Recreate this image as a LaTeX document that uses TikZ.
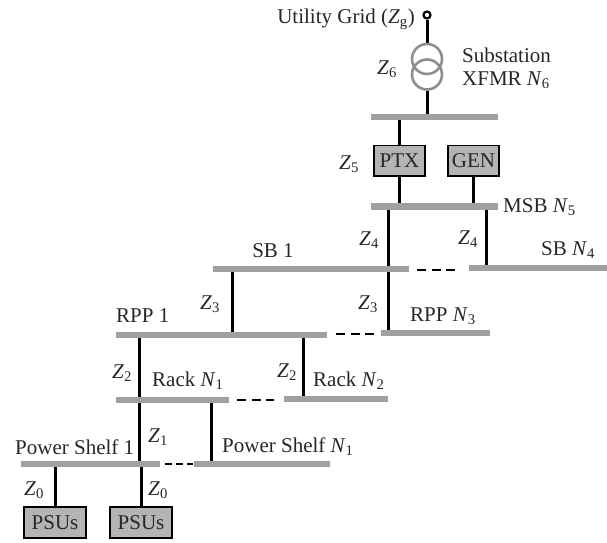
\documentclass[tikz,border=0pt]{standalone}
\usepackage{fontspec}
\usetikzlibrary{backgrounds}
\setmainfont{Liberation Serif}
\definecolor{busgray}{HTML}{A0A0A2}
\definecolor{boxgray}{HTML}{B4B4B6}
\definecolor{xfgray}{HTML}{8E8E90}
\newcommand{\busat}[4]{\node[busbar,minimum width={(#3-#2)*1pt},anchor=west] (#1) at (#2,#4) {};}
\newcommand{\boxat}[6]{\node[gearbox,minimum width={(#3-#2-1.8)*1pt},minimum height={(#5-#4-1.8)*1pt}] (#1) at ({(#2+#3)/2},{(#4+#5)/2}) {#6};}
\newcommand{\Zn}[1]{\textit{Z}\textsubscript{#1}}
\newcommand{\Nn}[1]{\textit{N}\textsubscript{#1}}
\begin{document}
\begin{tikzpicture}[x=1pt,y=-1pt,
  busbar/.style={draw=none,fill=busgray,minimum height=6.5pt,inner sep=0pt},
  wire/.style={line width=3pt,black},
  dashwire/.style={line width=2.4pt,black,dash pattern=on 9pt off 5.5pt},
  gearbox/.style={draw=black,line width=1.8pt,fill=boxgray,inner sep=0pt,font=\fontsize{21}{21}\selectfont,text=black!85},
  lbl/.style={inner sep=0pt,font=\fontsize{21}{23}\selectfont,text=black!85,align=left}]
\useasboundingbox (0,0) rectangle (607,542);
% buses
\busat{top}{371}{498}{117}
\busat{msb}{371}{498}{206.5}
\busat{sba}{213}{409}{269}
\busat{sbn}{469}{607}{268}
\busat{rppn}{381}{490}{333}
\busat{rppa}{116}{327}{335}
\busat{racka}{116}{229}{400}
\busat{rackn}{284}{388}{399}
\busat{shelfa}{21}{160}{464}
\busat{shelfn}{194}{330}{464}
% boxes
\boxat{ptx}{373}{426}{144.5}{177}{PTX}
\boxat{gen}{447}{500}{144.5}{177}{GEN}
\boxat{psua}{23}{87}{506}{539}{PSUs}
\boxat{psub}{109}{173}{506}{539}{PSUs}
% transformer
\node[circle,draw=xfgray,line width=2.6pt,minimum size=30pt,inner sep=0pt] (xa) at (427,59) {};
\node[circle,draw=xfgray,line width=2.6pt,minimum size=30pt,inner sep=0pt] (xb) at (427,74.5) {};
\node[circle,draw=black,line width=2.2pt,fill=white,minimum size=7pt,inner sep=0pt] (grid) at (427,15) {};
% wires, under the buses
\begin{scope}[on background layer]
\draw[wire] (grid) -- (xa.north);
\draw[wire] (xb.south) -- (xb.south |- top.center);
\draw[wire] (ptx.north) -- (ptx.north |- top.center);
\draw[wire] (ptx.south) -- (ptx.south |- msb.center);
\draw[wire] ([xshift=-0.5pt]gen.south) -- ([xshift=-0.5pt]gen.south |- msb.center);
\draw[wire] ([xshift=17pt]msb.west) -- ([xshift=17pt]msb.west |- rppn.center);
\draw[wire] ([xshift=115pt]msb.west) -- ([xshift=115pt]msb.west |- sbn.center);
\draw[wire] ([xshift=19pt]sba.west) -- ([xshift=19pt]sba.west |- rppa.center);
\draw[wire] ([xshift=23pt]rppa.west) -- ([xshift=23pt]rppa.west |- shelfa.center);
\draw[wire] ([xshift=187pt]rppa.west) -- ([xshift=187pt]rppa.west |- rackn.center);
\draw[wire] ([xshift=95pt]racka.west) -- ([xshift=95pt]racka.west |- shelfn.center);
\draw[wire] (psua.north) -- (psua.north |- shelfa.center);
\draw[wire] (psub.north) -- (psub.north |- shelfa.center);
\end{scope}
% dashes
\draw[dashwire] ([xshift=8pt,yshift=-1pt]sba.east) -- ([xshift=-13pt,yshift=-2pt]sbn.west);
\draw[dashwire] ([xshift=9pt,yshift=1pt]rppa.east) -- ([xshift=-7pt,yshift=-1pt]rppn.west);
\draw[dashwire] ([xshift=8pt]racka.east) -- ([xshift=-10pt,yshift=-1pt]rackn.west);
\draw[dashwire,line width=1.8pt,dash pattern=on 7pt off 4pt] ([xshift=5pt]shelfa.east) -- ([xshift=-1pt]shelfn.west);
% labels
\node[lbl,anchor=east] (lgrid) at (415,19) {Utility Grid (\textit{Z}\textsubscript{g})};
\node[lbl] (z6) at (387,69) {\Zn{6}};
\node[lbl,anchor=west] (lxf) at (462,68) {Substation\\XFMR \Nn{6}};
\node[lbl] (z5) at (349,164) {\Zn{5}};
\node[lbl,anchor=west] (lmsb) at (503,207) {MSB \Nn{5}};
\node[lbl] (z4a) at (369,240) {\Zn{4}};
\node[lbl] (z4b) at (468,239) {\Zn{4}};
\node[lbl,anchor=west] (lsbn) at (541,250) {SB \Nn{4}};
\node[lbl] (lsba) at (273,251) {SB 1};
\node[lbl] (z3a) at (210,304) {\Zn{3}};
\node[lbl] (z3b) at (368,304) {\Zn{3}};
\node[lbl,anchor=west] (lrppn) at (410,316) {RPP \Nn{3}};
\node[lbl,anchor=west] (lrppa) at (116,316) {RPP 1};
\node[lbl] (z2a) at (122,373) {\Zn{2}};
\node[lbl] (z2b) at (287,372) {\Zn{2}};
\node[lbl,anchor=west] (lracka) at (152,381) {Rack \Nn{1}};
\node[lbl,anchor=west] (lrackn) at (313,381) {Rack \Nn{2}};
\node[lbl] (z1) at (158,437) {\Zn{1}};
\node[lbl,anchor=west] (lshelfa) at (15,447) {Power Shelf 1};
\node[lbl,anchor=west] (lshelfn) at (222,447) {Power Shelf \Nn{1}};
\node[lbl] (z0a) at (34,490) {\Zn{0}};
\node[lbl] (z0b) at (158,490) {\Zn{0}};
\end{tikzpicture}
\end{document}
